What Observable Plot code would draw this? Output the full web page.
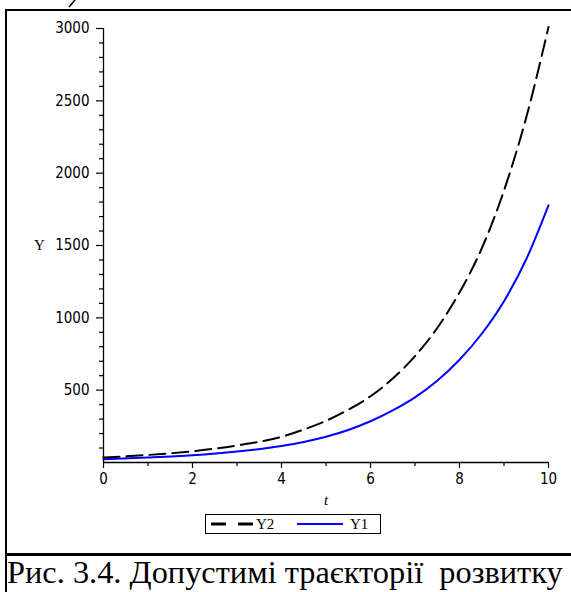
<!DOCTYPE html>
<html><head><meta charset="utf-8">
<script src="https://cdn.jsdelivr.net/npm/d3@7"></script>
<script src="https://cdn.jsdelivr.net/npm/@observablehq/plot@0.6"></script>
<style>
html,body{margin:0;padding:0;background:#fff;width:571px;height:592px;overflow:hidden;position:relative;}
#frame{position:absolute;left:5px;top:9px;width:620px;height:620px;border-left:2px solid #000;border-top:2px solid #000;box-sizing:border-box;}
#divider{position:absolute;left:5px;top:553px;width:620px;height:0;border-top:3px solid #000;}
#chart{position:absolute;left:0;top:0;}
#legend{position:absolute;left:205px;top:514px;width:176px;height:20px;border:1px solid #000;box-sizing:border-box;background:#fff;}
#caption{position:absolute;left:7px;top:552px;font-family:"Liberation Serif","DejaVu Serif",serif;font-size:31px;white-space:pre;line-height:40px;color:#000;}
#frag{position:absolute;left:0;top:0;}
</style>
</head><body>
<svg id="frag" width="90" height="10"><line x1="75" y1="0" x2="69" y2="7" stroke="#000" stroke-width="1.6"/></svg>
<div id="frame"></div>
<div id="chart"></div>
<div id="divider"></div>
<div id="legend"></div>
<div id="caption"></div>
<script>
// data
const tValues = [0, 1, 2, 3, 4, 4.5, 5, 5.5, 6, 6.5, 7, 7.5, 8, 8.5, 9, 9.5, 10];
const y2Values = [34, 52, 78, 118, 178, 228, 288, 365, 458, 580, 735, 930, 1175, 1480, 1880, 2385, 3010];
const y1Values = [22, 34, 50, 76, 114, 142, 178, 225, 285, 360, 450, 565, 710, 890, 1115, 1405, 1778];
const seriesNames = ["Y2", "Y1"];
const seriesColors = ["#000000", "#0000ff"];
const seriesDash = ["16,7", null];
const xMajorTicks = [0, 2, 4, 6, 8, 10];
const xMinorTicks = [1, 3, 5, 7, 9];
const yMajorTicks = [500, 1000, 1500, 2000, 2500, 3000];
const yMinorTicks = d3.range(100, 3000, 100).filter(v => v % 500 !== 0);
const xLabel = "t";
const yLabel = "Y";
const captionText = "Рис. 3.4. Допустимі траєкторії  розвитку";

const rows = [];
tValues.forEach((t, i) => {
  rows.push({t, v: y2Values[i], s: "Y2"});
  rows.push({t, v: y1Values[i], s: "Y1"});
});

const tickFont = '"Liberation Sans Narrow","DejaVu Sans Condensed","Liberation Sans",sans-serif';
const serif = '"Liberation Serif"';

const chart = Plot.plot({
  width: 571,
  height: 510,
  marginLeft: 103,
  marginRight: 23,
  marginTop: 28,
  marginBottom: 48,
  x: {domain: [0, 10]},
  y: {domain: [0, 3000]},
  style: {fontFamily: tickFont, fontSize: "15px", color: "#000", background: "transparent", overflow: "visible"},
  marks: [
    Plot.axisY({ticks: yMajorTicks, tickSize: 7, tickPadding: 7, tickFormat: d => String(d), label: null, strokeWidth: 1.2, fontSize: 15, fontFamily: tickFont}),
    Plot.axisY({ticks: yMinorTicks, tickSize: 4, text: null, label: null, strokeWidth: 1.2}),
    Plot.axisX({ticks: xMajorTicks, tickSize: 6, tickPadding: 5, tickFormat: d => String(d), label: null, strokeWidth: 1.2, fontSize: 15, fontFamily: tickFont}),
    Plot.axisX({ticks: xMinorTicks, tickSize: 4, text: null, label: null, strokeWidth: 1.2}),
    Plot.ruleY([0], {x1: 0, x2: 10, strokeWidth: 1.3}),
    Plot.ruleX([0], {y1: 0, y2: 3000, strokeWidth: 1.3}),
    Plot.line(rows.filter(d => d.s === "Y1"), {x: "t", y: "v", stroke: seriesColors[1], strokeWidth: 2, curve: "monotone-x"}),
    Plot.line(rows.filter(d => d.s === "Y2"), {x: "t", y: "v", stroke: seriesColors[0], strokeWidth: 2, strokeDasharray: seriesDash[0], curve: "monotone-x"}),
    Plot.text([yLabel], {frameAnchor: "left", dx: -64, textAnchor: "middle", fontFamily: serif, fontSize: 15}),
    Plot.text([xLabel], {frameAnchor: "bottom", dy: 42, fontFamily: serif, fontStyle: "italic", fontSize: 15})
  ]
});
document.getElementById("chart").appendChild(chart);

// legend
const lg = d3.select("#legend").append("svg").attr("width", 174).attr("height", 18).style("display", "block");
const items = [
  {x0: 5, x1: 47, tx: 50},
  {x0: 91, x1: 137, tx: 144}
];
seriesNames.forEach((name, i) => {
  const it = items[i];
  lg.append("line").attr("x1", it.x0).attr("x2", it.x1).attr("y1", 9).attr("y2", 9)
    .attr("stroke", seriesColors[i]).attr("stroke-width", i === 0 ? 3 : 2)
    .attr("stroke-dasharray", i === 0 ? "15,12" : null);
  lg.append("text").attr("x", it.tx).attr("y", 14).text(name)
    .attr("font-family", serif).attr("font-size", 15).attr("fill", "#000");
});

// caption fit to width
const cap = document.getElementById("caption");
cap.textContent = captionText;
const w = cap.getBoundingClientRect().width;
cap.style.fontSize = (31 * 556 / w) + "px";
</script>
</body></html>
